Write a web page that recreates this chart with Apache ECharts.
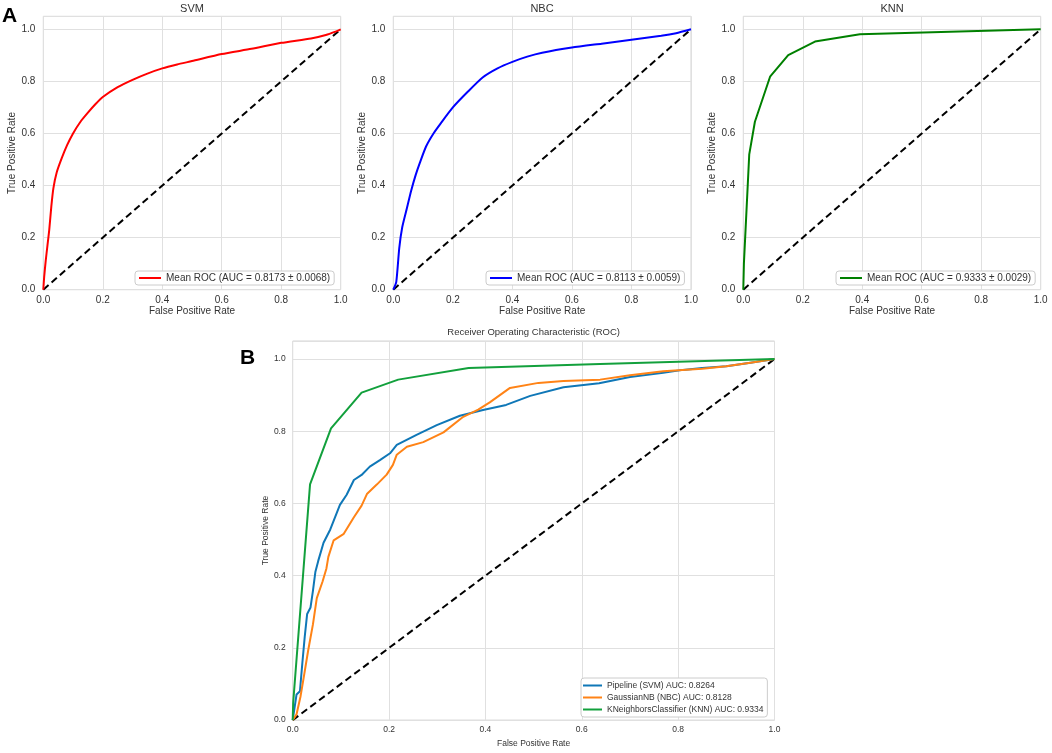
<!DOCTYPE html>
<html>
<head>
<meta charset="utf-8">
<script src="https://cdn.jsdelivr.net/npm/echarts@6/dist/echarts.min.js"></script>
<style>
  html, body { margin: 0; padding: 0; background: #fff; }
  #main { width: 1052px; height: 753px; }
</style>
</head>
<body>
<div id="main"></div>
<script>
// panel A: mean ROC curves
const svmFpr = [0, 0.003, 0.008, 0.014, 0.02, 0.027, 0.034, 0.045, 0.062, 0.08, 0.1, 0.125, 0.15, 0.175, 0.2, 0.25, 0.3, 0.35, 0.4, 0.45, 0.5, 0.6, 0.7, 0.8, 0.9, 0.95, 0.98, 1];
const svmTpr = [0, 0.05, 0.11, 0.17, 0.23, 0.32, 0.39, 0.45, 0.505, 0.555, 0.6, 0.645, 0.68, 0.712, 0.74, 0.778, 0.806, 0.83, 0.85, 0.865, 0.878, 0.905, 0.925, 0.948, 0.965, 0.978, 0.99, 1];

const nbcFpr = [0, 0.01, 0.02, 0.03, 0.045, 0.06, 0.075, 0.09, 0.11, 0.135, 0.16, 0.2, 0.25, 0.3, 0.35, 0.4, 0.45, 0.5, 0.6, 0.7, 0.8, 0.9, 0.95, 1];
const nbcTpr = [0, 0.03, 0.16, 0.24, 0.31, 0.38, 0.44, 0.49, 0.55, 0.6, 0.64, 0.7, 0.76, 0.815, 0.85, 0.875, 0.895, 0.91, 0.93, 0.945, 0.96, 0.975, 0.985, 1];

const knnFpr = [0, 0.002, 0.02, 0.039, 0.09, 0.151, 0.241, 0.392, 1];
const knnTpr = [0, 0.1, 0.52, 0.645, 0.818, 0.901, 0.953, 0.981, 1];

// panel B: single split ROC curves
const pipeFpr = [0, 0.008, 0.015, 0.02, 0.025, 0.03, 0.037, 0.042, 0.047, 0.053, 0.064, 0.078, 0.098, 0.112, 0.127, 0.143, 0.16, 0.181, 0.202, 0.216, 0.257, 0.299, 0.347, 0.395, 0.443, 0.493, 0.562, 0.636, 0.70, 0.769, 0.81, 0.85, 0.9, 0.95, 1];
const pipeTpr = [0, 0.071, 0.08, 0.158, 0.231, 0.294, 0.312, 0.358, 0.41, 0.441, 0.491, 0.528, 0.596, 0.624, 0.665, 0.679, 0.702, 0.72, 0.739, 0.762, 0.79, 0.817, 0.843, 0.859, 0.873, 0.898, 0.922, 0.933, 0.95, 0.962, 0.97, 0.975, 0.98, 0.99, 1];

const gnbFpr = [0, 0.008, 0.016, 0.023, 0.032, 0.042, 0.05, 0.062, 0.07, 0.074, 0.085, 0.106, 0.127, 0.143, 0.154, 0.175, 0.195, 0.208, 0.216, 0.237, 0.271, 0.313, 0.354, 0.385, 0.409, 0.451, 0.51, 0.562, 0.638, 0.70, 0.769, 0.85, 0.9, 0.95, 1];
const gnbTpr = [0, 0.016, 0.064, 0.119, 0.192, 0.265, 0.338, 0.384, 0.42, 0.452, 0.498, 0.516, 0.562, 0.594, 0.626, 0.653, 0.68, 0.707, 0.735, 0.757, 0.77, 0.797, 0.84, 0.86, 0.88, 0.92, 0.934, 0.939, 0.943, 0.955, 0.966, 0.973, 0.98, 0.99, 1];

const kncFpr = [0, 0.001, 0.036, 0.0795, 0.143, 0.219, 0.365, 0.638, 1];
const kncTpr = [0, 0.048, 0.653, 0.808, 0.907, 0.943, 0.975, 0.986, 1];

const chanceLine = [0, 1];

const topNames = [
    'Mean ROC (AUC = 0.8173 ± 0.0068)',
    'Mean ROC (AUC = 0.8113 ± 0.0059)',
    'Mean ROC (AUC = 0.9333 ± 0.0029)'
];
const bottomNames = [
    'Pipeline (SVM) AUC: 0.8264',
    'GaussianNB (NBC) AUC: 0.8128',
    'KNeighborsClassifier (KNN) AUC: 0.9334'
];

const FONT = '"Liberation Sans", Arial, sans-serif';
const TEXT = '#333333';
const GRID_LINE = '#e0e0e0';

function pairs(xs, ys) {
    return xs.map((x, i) => [x, ys[i]]);
}

function makeXAxis(idx, fontSize, nameGap, margin) {
    return {
        type: 'value', gridIndex: idx, min: 0, max: 1, interval: 0.2,
        name: 'False Positive Rate', nameLocation: 'middle', nameGap: nameGap,
        nameTextStyle: { fontSize: fontSize, color: TEXT, fontFamily: FONT },
        axisLine: { show: false }, axisTick: { show: false },
        axisLabel: { fontSize: fontSize, color: TEXT, fontFamily: FONT, margin: margin,
            formatter: v => v.toFixed(1) },
        splitLine: { show: true, lineStyle: { color: GRID_LINE, width: 1 } }
    };
}

function makeYAxis(idx, fontSize, nameGap, margin) {
    return {
        type: 'value', gridIndex: idx, min: 0, max: 1.05, interval: 0.2,
        name: 'True Positive Rate', nameLocation: 'middle', nameGap: nameGap,
        nameTextStyle: { fontSize: fontSize, color: TEXT, fontFamily: FONT },
        axisLine: { show: false }, axisTick: { show: false },
        axisLabel: { fontSize: fontSize, color: TEXT, fontFamily: FONT, margin: margin,
            showMaxLabel: false,
            formatter: v => (v > 1.001 ? '' : v.toFixed(1)) },
        splitLine: { show: true, lineStyle: { color: GRID_LINE, width: 1 } }
    };
}

function curve(name, idx, xs, ys, color, smooth) {
    return {
        name: name, type: 'line', xAxisIndex: idx, yAxisIndex: idx,
        data: pairs(xs, ys), showSymbol: false, symbol: 'none', smooth: smooth,
        lineStyle: { color: color, width: 2 }, itemStyle: { color: color },
        animation: false, z: 3
    };
}

function chance(idx) {
    return {
        name: 'chance' + idx, type: 'line', xAxisIndex: idx, yAxisIndex: idx,
        data: pairs(chanceLine, chanceLine), showSymbol: false, symbol: 'none',
        lineStyle: { color: '#000', width: 2, type: [7, 4] },
        animation: false, z: 2
    };
}

function topLegend(name, left) {
    return {
        data: [name], left: left, top: 271, orient: 'horizontal',
        icon: 'rect', itemWidth: 22, itemHeight: 2, itemGap: 5,
        selectedMode: false, padding: [2, 4, 2, 4],
        backgroundColor: '#fff', borderColor: '#cccccc', borderWidth: 1, borderRadius: 3,
        textStyle: { fontSize: 10, color: TEXT, fontFamily: FONT }
    };
}

const chart = echarts.init(document.getElementById('main'));

const option = {
    backgroundColor: '#fff',
    animation: false,
    grid: [
        { left: 43.3, top: 16.3, width: 297.4, height: 273.4, show: true, borderColor: '#d4d4d4', borderWidth: 1, containLabel: false },
        { left: 393.3, top: 16.3, width: 297.7, height: 273.4, show: true, borderColor: '#d4d4d4', borderWidth: 1, containLabel: false },
        { left: 743.3, top: 16.3, width: 297.4, height: 273.4, show: true, borderColor: '#d4d4d4', borderWidth: 1, containLabel: false },
        { left: 292.7, top: 341, width: 481.8, height: 383.3, show: true, borderColor: '#d4d4d4', borderWidth: 1, containLabel: false }
    ],
    xAxis: [
        makeXAxis(0, 10, 17, 6),
        makeXAxis(1, 10, 17, 6),
        makeXAxis(2, 10, 17, 6),
        makeXAxis(3, 8.5, 18, 5)
    ],
    yAxis: [
        makeYAxis(0, 10, 25, 8),
        makeYAxis(1, 10, 25, 8),
        makeYAxis(2, 10, 25, 8),
        makeYAxis(3, 8.5, 23, 7)
    ],
    legend: [
        topLegend(topNames[0], 135),
        topLegend(topNames[1], 486),
        topLegend(topNames[2], 836),
        {
            data: bottomNames, left: 581, top: 678, orient: 'vertical',
            icon: 'rect', itemWidth: 19, itemHeight: 2, itemGap: 3,
            selectedMode: false, padding: [3, 4, 3, 2],
            backgroundColor: '#fff', borderColor: '#cccccc', borderWidth: 1, borderRadius: 3,
            textStyle: { fontSize: 8.5, color: TEXT, fontFamily: FONT }
        }
    ],
    graphic: [
        { type: 'text', x: 192, y: 8.5, style: { text: 'SVM', align: 'center', verticalAlign: 'middle', font: '11px ' + FONT, fill: TEXT } },
        { type: 'text', x: 542, y: 8.5, style: { text: 'NBC', align: 'center', verticalAlign: 'middle', font: '11px ' + FONT, fill: TEXT } },
        { type: 'text', x: 892, y: 8.5, style: { text: 'KNN', align: 'center', verticalAlign: 'middle', font: '11px ' + FONT, fill: TEXT } },
        { type: 'text', x: 533.6, y: 332, style: { text: 'Receiver Operating Characteristic (ROC)', align: 'center', verticalAlign: 'middle', font: '9.5px ' + FONT, fill: TEXT } },
        { type: 'text', x: 2, y: 16.5, style: { text: 'A', align: 'left', verticalAlign: 'middle', font: 'bold 21px ' + FONT, fill: '#000' } },
        { type: 'text', x: 240, y: 358, style: { text: 'B', align: 'left', verticalAlign: 'middle', font: 'bold 21px ' + FONT, fill: '#000' } }
    ],
    series: [
        curve(topNames[0], 0, svmFpr, svmTpr, '#ff0000', 0.2),
        chance(0),
        curve(topNames[1], 1, nbcFpr, nbcTpr, '#0000ff', 0.2),
        chance(1),
        curve(topNames[2], 2, knnFpr, knnTpr, '#008000', false),
        chance(2),
        curve(bottomNames[0], 3, pipeFpr, pipeTpr, '#0f77b7', false),
        curve(bottomNames[1], 3, gnbFpr, gnbTpr, '#ff8316', false),
        curve(bottomNames[2], 3, kncFpr, kncTpr, '#12a03c', false),
        chance(3)
    ]
};

chart.setOption(option);
</script>
</body>
</html>
